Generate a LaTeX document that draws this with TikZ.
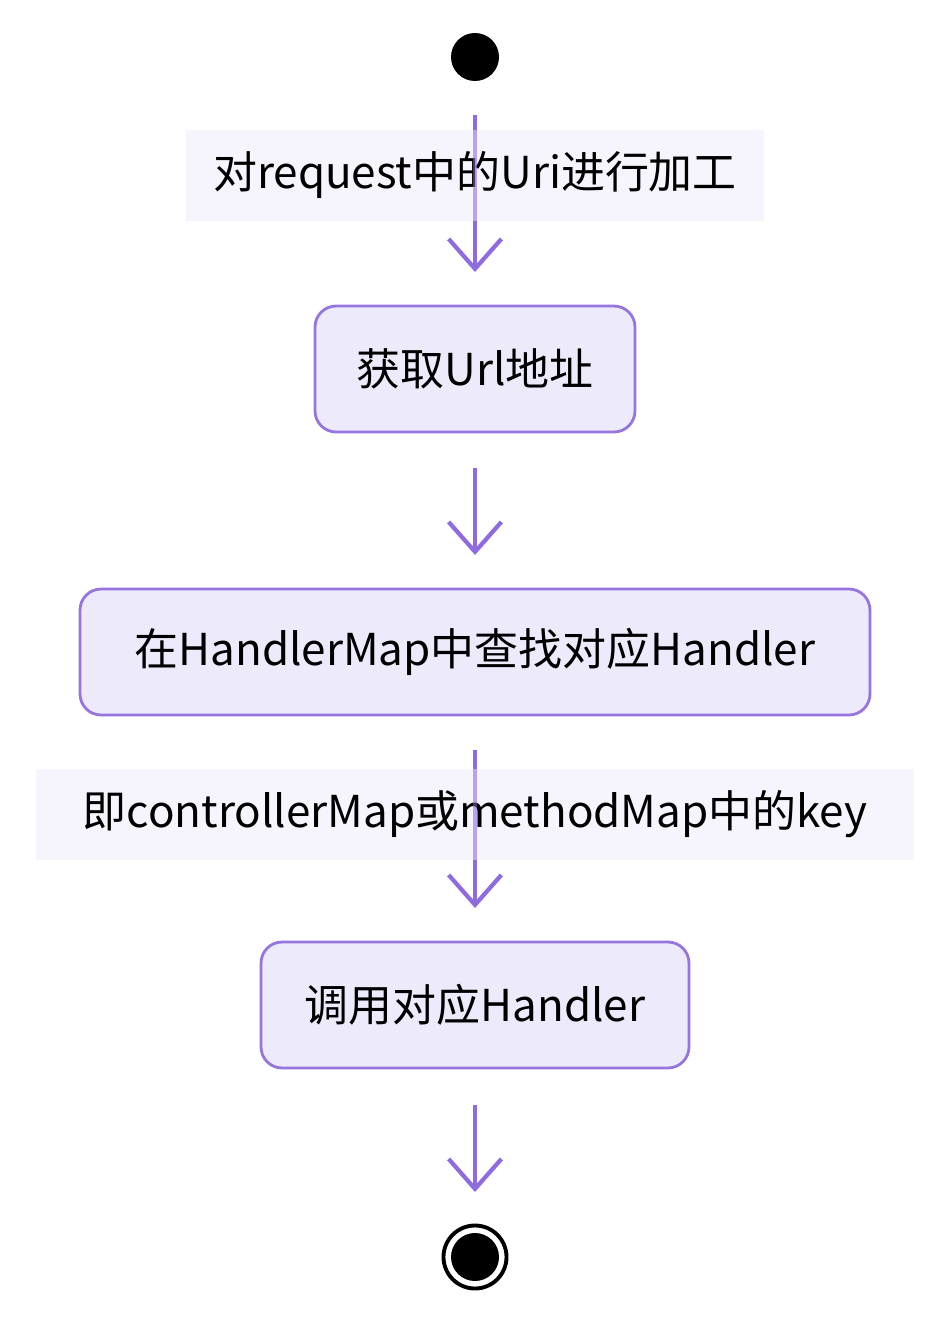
\documentclass[tikz,border=0pt]{standalone}
\usepackage{fontspec}
\newfontfamily\cjk{Noto Sans CJK SC}
\usetikzlibrary{arrows.meta}
\definecolor{edgepurple}{RGB}{142,108,224}
\definecolor{boxfill}{RGB}{237,234,251}
\definecolor{boxline}{RGB}{150,118,222}
\definecolor{labelfill}{RGB}{244,242,252}
\tikzset{
	actbox/.style={draw=boxline,line width=1.6pt,fill=boxfill,rounded corners=12pt,minimum height=2.52cm,font=\cjk\fontsize{25}{30}\selectfont},
	flowlabel/.style={fill=labelfill,fill opacity=0.85,text opacity=1,minimum height=1.82cm,font=\cjk\fontsize{25}{30}\selectfont},
	flow/.style={edgepurple,line width=2pt,-{Straight Barb[length=17pt,width=30pt,line width=2.4pt]}}
}
\begin{document}
\begin{tikzpicture}
		\useasboundingbox (0,0) rectangle (19,-26.44);
		\node (start) at (9.5,-1.14) [circle,fill=black,minimum size=0.96cm,inner sep=0] {};
		\node (fetch) at (9.5,-7.38) [actbox,minimum width=6.4cm] {获取Url地址};
		\node (lookup) at (9.5,-13.04) [actbox,minimum width=15.8cm] {在HandlerMap中查找对应Handler};
		\node (invoke) at (9.5,-20.1) [actbox,minimum width=8.56cm] {调用对应Handler};
		\node (stop) at (9.5,-25.14) [circle,draw=black,line width=2.2pt,minimum size=1.26cm,inner sep=0] {};
		\node (stopdot) at (stop) [circle,fill=black,minimum size=0.96cm,inner sep=0] {};
		\coordinate (e1a) at (9.5,-2.3);
		\coordinate (e1b) at (9.5,-5.44);
		\coordinate (e2a) at (9.5,-9.36);
		\coordinate (e2b) at (9.5,-11.1);
		\coordinate (e3a) at (9.5,-15.0);
		\coordinate (e3b) at (9.5,-18.16);
		\coordinate (e4a) at (9.5,-22.1);
		\coordinate (e4b) at (9.5,-23.84);
		\draw[flow] (e1a) -- (e1b);
		\draw[flow] (e2a) -- (e2b);
		\draw[flow] (e3a) -- (e3b);
		\draw[flow] (e4a) -- (e4b);
		\node (uri) at (9.5,-3.5) [flowlabel,minimum width=11.56cm] {对request中的Uri进行加工};
		\node (key) at (9.5,-16.28) [flowlabel,minimum width=17.56cm] {即controllerMap或methodMap中的key};
		\draw[edgepurple,line width=2pt,opacity=0.5] (uri.north) -- (uri.south) (key.north) -- (key.south);
\end{tikzpicture}
\end{document}
